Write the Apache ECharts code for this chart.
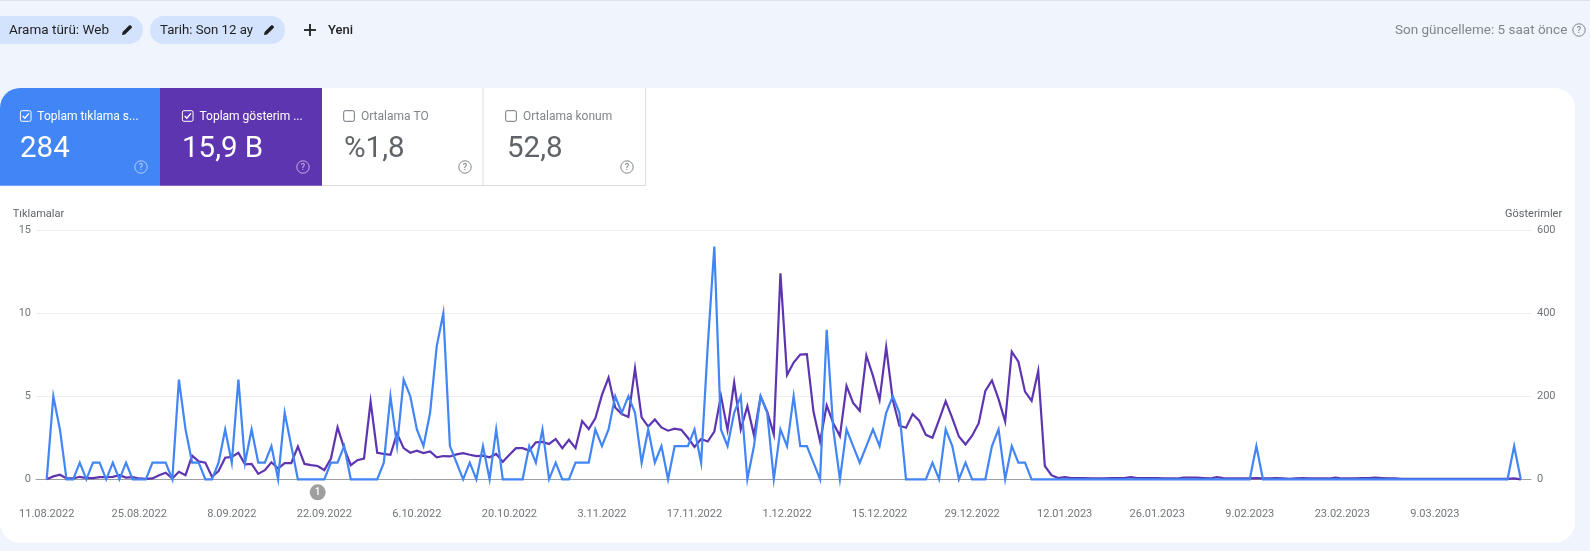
<!DOCTYPE html>
<html><head><meta charset="utf-8">
<style>html,body{margin:0;padding:0;background:#f0f4fd;overflow:hidden}#c{width:1590px;height:551px}</style>
<script src="https://cdn.jsdelivr.net/npm/echarts@6/dist/echarts.min.js"></script>
</head><body><div id="c"></div>
<script>
const tickDays=[0,14,28,42,56,70,84,98,112,126,140,154,168,182,196,210];
const tickLabels=['11.08.2022','25.08.2022','8.09.2022','22.09.2022','6.10.2022','20.10.2022','3.11.2022','17.11.2022','1.12.2022','15.12.2022','29.12.2022','12.01.2023','26.01.2023','9.02.2023','23.02.2023','9.03.2023'];
const clicks=[
0,5,3,0,0,1,0,1,1,0,
1,0,1,0,0,0,1,1,1,0,
6,3,1,1,0,0,1,3,1,6,
1,3,1,1,2,0,4,2,0,0,
0,0,0,1,1,2,0,0,0,0,
0,1,5,2,6,5,3,2,4,8,
10,2,1,0,1,0,2,0,3,0,
0,0,0,2,1,3,0,1,0,0,
1,1,1,3,2,3,5,4,5,4,
1,3,1,2,0,2,2,2,3,1,
8,14,3,2,4,5,0,2,5,4,
0,3,2,5,2,2,1,0,9,3,
0,3,2,1,2,3,2,4,5,4,
0,0,0,0,1,0,3,2,0,1,
0,0,0,2,3,0,2,1,1,0,
0,0,0,0,0,0,0,0,0,0,
0,0,0,0,0,0,0,0,0,0,
0,0,0,0,0,0,0,0,0,0,
0,0,0,2,0,0,0,0,0,0,
0,0,0,0,0,0,0,0,0,0,
0,0,0,0,0,0,0,0,0,0,
0,0,0,0,0,0,0,0,0,0,
0,0,2,0];
const impressions=[
0,7,11,2,2,6,3,3,5,5,
6,10,4,5,2,1,2,10,16,2,
18,10,57,43,40,6,20,52,54,64,
36,37,13,22,41,26,39,39,79,37,
34,32,22,50,125,75,34,46,50,187,
64,61,59,110,75,64,69,63,67,53,
56,55,60,63,59,56,57,53,61,42,
59,75,75,69,89,90,85,97,75,95,
75,140,121,147,203,245,173,157,150,267,
149,127,144,125,117,122,119,100,78,97,
91,115,201,119,233,120,176,106,199,163,
108,496,251,281,300,301,163,91,178,135,
104,225,184,165,298,249,191,318,191,129,
124,157,141,107,100,143,188,147,103,84,
105,135,213,238,193,139,307,283,211,189,
261,32,10,3,5,3,3,3,2,2,
2,3,3,3,5,3,3,3,3,2,
2,2,4,4,4,3,2,5,3,2,
2,2,2,3,2,2,3,2,1,2,
3,2,2,2,2,4,2,2,2,3,
3,4,3,2,2,1,1,1,1,1,
1,1,1,1,1,1,1,1,1,1,
1,1,2,0];
const leftTicks=[0,5,10,15];
const rightTicks=[0,200,400,600];

const BLUE='#4285f4',PURPLE='#5e35b1',FONT='Roboto, sans-serif';
const g=[];
const rect=(x,y,w,h,fill,r,z,stroke)=>g.push({type:'rect',z:z||1,silent:true,shape:{x,y,width:w,height:h,r:r||0},style:{fill:fill||'none',stroke:stroke||null,lineWidth:stroke?1:0}});
const text=(x,y,t,fill,size,weight,align)=>g.push({type:'text',z:7,silent:true,style:{x,y,text:t,fill,font:(weight||400)+' '+size+'px '+FONT,textAlign:align||'left',textVerticalAlign:'middle'}});
const line=(x1,y1,x2,y2,c,w)=>g.push({type:'line',z:3,silent:true,shape:{x1,y1,x2,y2},style:{stroke:c,lineWidth:w||1}});
const help=(x,y,c)=>{g.push({type:'circle',z:5,silent:true,shape:{cx:x,cy:y,r:6.2},style:{fill:'none',stroke:c,lineWidth:1}});text(x,y+.5,'?',c,9,500,'center');};
const check=(x,y,c,on)=>{rect(x-5.3,y-5.3,10.6,10.6,'none',1.5,5,c);
 if(on)g.push({type:'polyline',z:5,silent:true,shape:{points:[[x-3,y],[x-.8,y+2.3],[x+3.2,y-2.6]]},style:{fill:'none',stroke:c,lineWidth:1.4}});};
const pencil=(x,y)=>g.push({type:'polygon',z:5,silent:true,shape:{points:[[x-5,y+5],[x-4.4,y+2],[x+2,y-4.6],[x+3.2,y-5],[x+5,y-3.2],[x+4.6,y-2],[x-2,y+4.4]]},style:{fill:'#1f1f1f'}});

line(0,.5,1590,.5,'#e0e3e7',1);
rect(-20,16,163,28,'#d3e3fd',14);
rect(150,16,135,28,'#d3e3fd',14);
text(9,30.5,'Arama türü: Web','#1f1f1f',13.5);pencil(127,30);
text(160,30.5,'Tarih: Son 12 ay','#1f1f1f',13.2);pencil(269,30);
line(304,30,316,30,'#1f1f1f',1.8);line(310,24,310,36,'#1f1f1f',1.8);
text(328,30.5,'Yeni','#1f1f1f',13,500);
text(1395,30.5,'Son güncelleme: 5 saat önce','#80868b',13.5);
help(1579,30,'#80868b');
// card and tiles
rect(0,88,1575,454.7,'#ffffff',20,0);
rect(0,88,160,97.7,BLUE,[20,0,0,0],1);
rect(160,88,162,97.7,PURPLE,0);
line(483,88,483,186,'#dadce0');line(645.5,88,645.5,186,'#dadce0');line(322,185.5,646,185.5,'#dadce0');
check(25.7,116,'#fff',true);text(37.3,116.5,'Toplam tıklama s...','#fff',12,400);text(20,149.5,'284','#fff',29.5);help(141,167,'rgba(255,255,255,.6)');
check(187.7,116,'#fff',true);text(199.5,116.5,'Toplam gösterim ...','#fff',12,400);text(182,149.5,'15,9 B','#fff',29.5);help(303,167,'rgba(255,255,255,.6)');
check(349,116,'#70757a');text(361,116.5,'Ortalama TO','#80868b',12);text(344,149.5,'%1,8','#5f6368',29.5);help(465,167,'#80868b');
check(511,116,'#70757a');text(523,116.5,'Ortalama konum','#80868b',12);text(507,149.5,'52,8','#5f6368',29.5);help(627,167,'#80868b');
// axis titles
text(12.7,214.5,'Tıklamalar','#5f6368',11);
text(1505,214.5,'Gösterimler','#5f6368',11);
// annotation badge
g.push({type:'circle',z:6,silent:true,shape:{cx:317.7,cy:492.3,r:8},style:{fill:'#9e9e9e'}});
text(317.7,492.8,'1','#fff',10,500,'center');

const axisLbl={color:'#70757a',fontFamily:FONT,fontSize:11};
const mkY=(ticks,margin,grid)=>({type:'value',z:2,min:0,max:ticks[3],interval:ticks[1],
 axisLine:{show:false},axisTick:{show:false},axisLabel:{...axisLbl,margin},
 splitLine:{show:grid,lineStyle:{color:'#eceef1',width:1}}});
const chart=echarts.init(document.getElementById('c'),null,{width:1590,height:551});
chart.setOption({
 animation:false,backgroundColor:'#f0f4fd',
 graphic:{elements:g},
 grid:{left:36,right:59,top:230,bottom:71.7,containLabel:false},
 xAxis:{type:'value',z:2,min:-1.62,max:224.55,splitLine:{show:false},
  axisLine:{show:true,onZero:false,lineStyle:{color:'#9aa0a6',width:1}},axisTick:{show:false},
  axisLabel:{...axisLbl,margin:29,customValues:tickDays,formatter:v=>tickLabels[tickDays.indexOf(v)]||''}},
 yAxis:[mkY(leftTicks,5,true),mkY(rightTicks,6,false)],
 series:[
  {name:'Gösterimler',type:'line',yAxisIndex:1,showSymbol:false,symbol:'none',data:impressions.map((v,i)=>[i,v]),lineStyle:{color:PURPLE,width:2.2,join:'miter'},itemStyle:{color:PURPLE},clip:false,z:3},
  {name:'Tıklamalar',type:'line',yAxisIndex:0,showSymbol:false,symbol:'none',data:clicks.map((v,i)=>[i,v]),lineStyle:{color:BLUE,width:2.2,join:'miter'},itemStyle:{color:BLUE},clip:false,z:4}
 ]
});
</script></body></html>
